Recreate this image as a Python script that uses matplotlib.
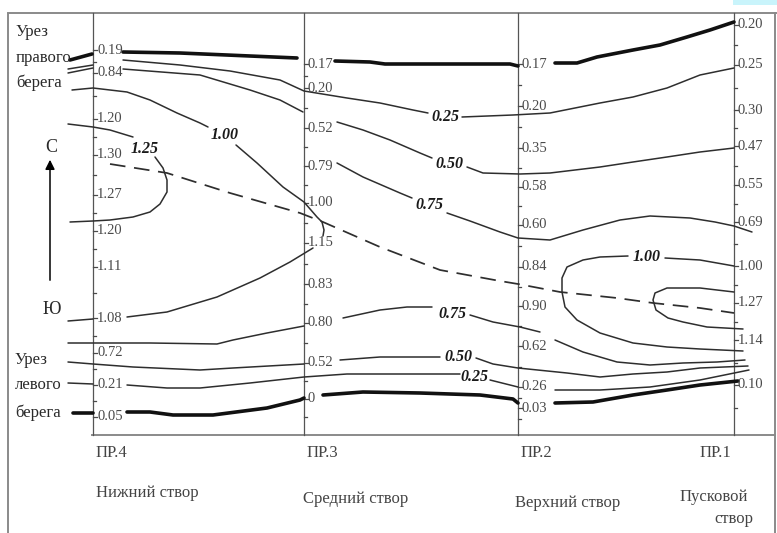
import matplotlib
matplotlib.use("Agg")
import matplotlib.pyplot as plt
from matplotlib.patches import Rectangle

# ---------------- data ----------------
# x: position along the reach (conventional units, ПР.4 = 0)
# y: position across the channel (conventional units, left bank = 0)
STATIONS = ["ПР.4", "ПР.3", "ПР.2", "ПР.1"]
STATION_X = [0, 211, 425, 641]
SECTION_NAMES = ["Нижний створ", "Средний створ", "Верхний створ", "Пусковой"]

PR4_POS = [385, 362, 316, 280, 240, 204, 168, 117, 82, 50, 18]
PR4_VAL = ["0.19", "0.84", "1.20", "1.30", "1.27", "1.20", "1.11", "1.08", "0.72", "0.21", "0.05"]
PR3_POS = [371, 347, 307, 269, 232, 192, 151, 112, 72, 36]
PR3_VAL = ["0.17", "0.20", "0.52", "0.79", "1.00", "1.15", "0.83", "0.80", "0.52", "0"]
PR2_POS = [371, 329, 287, 248, 210, 168, 129, 89, 48, 27]
PR2_VAL = ["0.17", "0.20", "0.35", "0.58", "0.60", "0.84", "0.90", "0.62", "0.26", "0.03"]
PR1_POS = [410, 370, 325, 289, 250, 213, 169, 132, 95, 50]
PR1_VAL = ["0.20", "0.25", "0.30", "0.47", "0.55", "0.69", "1.00", "1.27", "1.14", "0.10"]

# water edges (thick)
EDGE_RIGHT = [
    [(-23, 375), (-1, 381)],
    [(30, 383), (87, 382), (157, 379), (204, 377)],
    [(242, 374), (277, 373), (292, 371), (357, 371), (417, 371), (425, 369)],
    [(462, 372), (484, 372), (504, 378), (540, 385), (567, 390), (594, 398), (617, 405), (641, 413)],
]
EDGE_LEFT = [
    [(-20, 22), (0, 22)],
    [(34, 23), (57, 23), (80, 20), (120, 20), (174, 27), (207, 35), (211, 37)],
    [(230, 40), (270, 43), (327, 42), (387, 40), (420, 36), (425, 32)],
    [(462, 32), (500, 33), (540, 40), (574, 45), (607, 50), (645, 54)],
]

# isolines (thin)
ISO025_UP = [
    [(-25, 366), (0, 370)],
    [(30, 375), (87, 370), (137, 364), (187, 355), (211, 344), (254, 337), (287, 332), (320, 325), (335, 322)],
    [(369, 318), (420, 320), (457, 322), (507, 332), (540, 338), (574, 347), (607, 360), (641, 367)],
]
ISO050_UP = [
    [(-25, 362), (0, 367)],
    [(30, 366), (107, 360), (157, 345), (187, 335), (210, 323)],
    [(244, 313), (270, 305), (297, 295), (327, 282), (339, 277)],
    [(374, 268), (390, 262), (427, 261), (457, 262), (507, 268), (540, 273), (574, 278), (607, 283), (641, 287)],
]
ISO075_UP = [
    [(244, 272), (270, 258), (307, 242), (319, 237)],
    [(354, 222), (377, 214), (407, 203), (425, 197), (457, 195), (490, 205), (527, 215), (557, 219),
     (597, 217), (622, 213), (641, 209), (659, 203)],
]
ISO100_UP = [
    [(-21, 345), (0, 347), (34, 343), (57, 335), (84, 322), (107, 312), (115, 308)],
    [(143, 290), (164, 272), (190, 248), (211, 233), (224, 218), (229, 213), (231, 205), (230, 199)],
]
ISO100_LOW = [
    [(-25, 114), (0, 116)],
    [(34, 118), (74, 123), (124, 138), (167, 157), (197, 173), (220, 187)],
]
ISO125 = [
    [(-25, 311), (0, 308), (17, 305), (40, 298)],
    [(62, 278), (70, 267), (74, 255), (74, 243), (67, 231), (57, 223), (40, 218), (17, 215), (0, 214), (-23, 213)],
]
ISO075_LOW = [
    [(-25, 92), (57, 92), (124, 91), (140, 95), (174, 102), (211, 109)],
    [(250, 117), (287, 125), (314, 128), (339, 128)],
    [(377, 120), (400, 113), (427, 108), (447, 103)],
    [(462, 95), (490, 83), (524, 73), (557, 70), (590, 72), (624, 73), (652, 75)],
]
ISO050_LOW = [
    [(-25, 73), (0, 71), (40, 68), (107, 65), (140, 67), (211, 71)],
    [(247, 75), (287, 78), (347, 78)],
    [(383, 77), (400, 71), (425, 67), (474, 62), (507, 58), (540, 61), (574, 63), (607, 67), (655, 69)],
]
ISO025_LOW = [
    [(-25, 52), (0, 51)],
    [(34, 50), (74, 47), (107, 47), (157, 52), (211, 58), (254, 61), (367, 61)],
    [(397, 55), (425, 48)],
    [(462, 45), (507, 45), (557, 48), (607, 55), (656, 65)],
]
ISO100_RIGHT = [
    [(641, 169), (607, 175), (572, 177)],
    [(535, 179), (507, 178), (490, 175), (474, 168), (469, 157), (469, 143), (472, 128), (484, 115),
     (507, 102), (540, 92), (574, 88), (607, 86), (650, 84)],
]
ISO125_RIGHT = [
    [(641, 143), (607, 147), (574, 147), (562, 142), (560, 135), (563, 125), (575, 117), (590, 113),
     (614, 108), (650, 106)],
]
MAX_FLOW_AXIS = [(17, 271), (74, 262), (137, 242), (207, 222), (230, 213), (287, 188), (347, 165),
                 (407, 154), (425, 151), (467, 143), (524, 137), (560, 132), (607, 127), (641, 122)]

ISO_LABELS = [("1.00", 132, 300), ("1.25", 52, 286), ("0.25", 352, 318), ("0.50", 356, 271),
              ("0.75", 336, 230), ("1.00", 554, 178), ("0.75", 359, 121), ("0.50", 365, 78),
              ("0.25", 381, 58)]

# ---------------- drawing ----------------
W, H = 777, 533
fig = plt.figure(figsize=(W / 100, H / 100), dpi=100)
ax = fig.add_axes([0, 0, 1, 1])
ax.set_xlim(-93, 684)
ax.set_ylim(-98, 435)
ax.axis("off")

SERIF = ["Liberation Serif", "DejaVu Serif"]
FRAME = "#8a8a8a"
TICKC = "#4a4a4a"

# outer frame and cyan artefact
ax.plot([-85, -85], [422, -98], color=FRAME, lw=1.4, solid_capstyle="butt")
ax.plot([-85, 684], [422, 422], color=FRAME, lw=1.4)
ax.plot([682, 682], [422, -98], color=FRAME, lw=1.4)
ax.plot([-1, 682], [0, 0], color=FRAME, lw=1.4)
ax.add_patch(Rectangle((640, 430), 44, 6, color="#c9f4fb", lw=0))

# station lines, ticks, tick labels
positions = [PR4_POS, PR3_POS, PR2_POS, PR1_POS]
values = [PR4_VAL, PR3_VAL, PR2_VAL, PR1_VAL]
for sx, pos, vals in zip(STATION_X, positions, values):
    ax.plot([sx, sx], [0, 422], color="#555555", lw=0.9)
    for p, v in zip(pos, vals):
        ax.plot([sx, sx + 4], [p, p], color=TICKC, lw=0.9)
        ax.text(sx + 4, p, v, family=SERIF, fontsize=10.5, color=TICKC,
                ha="left", va="center")
    mids = [(a + b) / 2 for a, b in zip(pos[:-1], pos[1:])]
    mids.append(pos[-1] - (pos[-2] - pos[-1]) / 2)
    for m in mids:
        if m > 4:
            ax.plot([sx, sx + 3], [m, m], color=TICKC, lw=0.9)


def draw(segments, lw, color, **kw):
    for seg in segments:
        xs = [p[0] for p in seg]
        ys = [p[1] for p in seg]
        ax.plot(xs, ys, color=color, lw=lw, solid_capstyle="round", solid_joinstyle="round", **kw)


draw(EDGE_RIGHT, 2.6, "#111111")
draw(EDGE_LEFT, 2.6, "#111111")
for iso in [ISO025_UP, ISO050_UP, ISO075_UP, ISO100_UP, ISO100_LOW, ISO125, ISO075_LOW,
            ISO050_LOW, ISO025_LOW, ISO100_RIGHT, ISO125_RIGHT]:
    draw(iso, 1.1, "#2e2e2e")

ax.plot([p[0] for p in MAX_FLOW_AXIS], [p[1] for p in MAX_FLOW_AXIS], color="#2e2e2e", lw=1.25,
        linestyle=(0, (9, 5)))

for txt, x, y in ISO_LABELS:
    ax.text(x, y, txt, family=SERIF, fontsize=11.5, fontweight="bold", fontstyle="italic",
            color="#1a1a1a", ha="center", va="center")

# bank labels
TXT = "#2a2a2a"
for t, y in [("Урез", 403), ("правого", 377), ("берега", 352)]:
    ax.text(-77, y, t, family=SERIF, fontsize=12, color=TXT, ha="left", va="center")
for t, y in [("Урез", 75), ("левого", 50), ("берега", 22)]:
    ax.text(-78, y, t, family=SERIF, fontsize=12, color=TXT, ha="left", va="center")

# north arrow
ax.annotate("", xy=(-43, 278), xytext=(-43, 152),
            arrowprops=dict(arrowstyle="-|>", color="black", lw=1.1, mutation_scale=14))
ax.text(-42, 287, "С", family=SERIF, fontsize=13, color=TXT, ha="center", va="center")
ax.text(-41, 126, "Ю", family=SERIF, fontsize=13, color=TXT, ha="center", va="center")

# station names and section names
for sx, name in zip(STATION_X, STATIONS):
    off = 3 if name != "ПР.1" else -34
    ax.text(sx + off, -18, name, family=SERIF, fontsize=12, color="#444444", ha="left", va="center")
sec_pos = [(3, -58), (210, -64), (422, -68), (587, -62)]
for (x, y), name in zip(sec_pos, SECTION_NAMES):
    ax.text(x, y, name, family=SERIF, fontsize=12, color="#444444", ha="left", va="center")
ax.text(621, -84, "створ", family=SERIF, fontsize=12, color="#444444", ha="left", va="center")

fig.savefig("out.png", dpi=100)
